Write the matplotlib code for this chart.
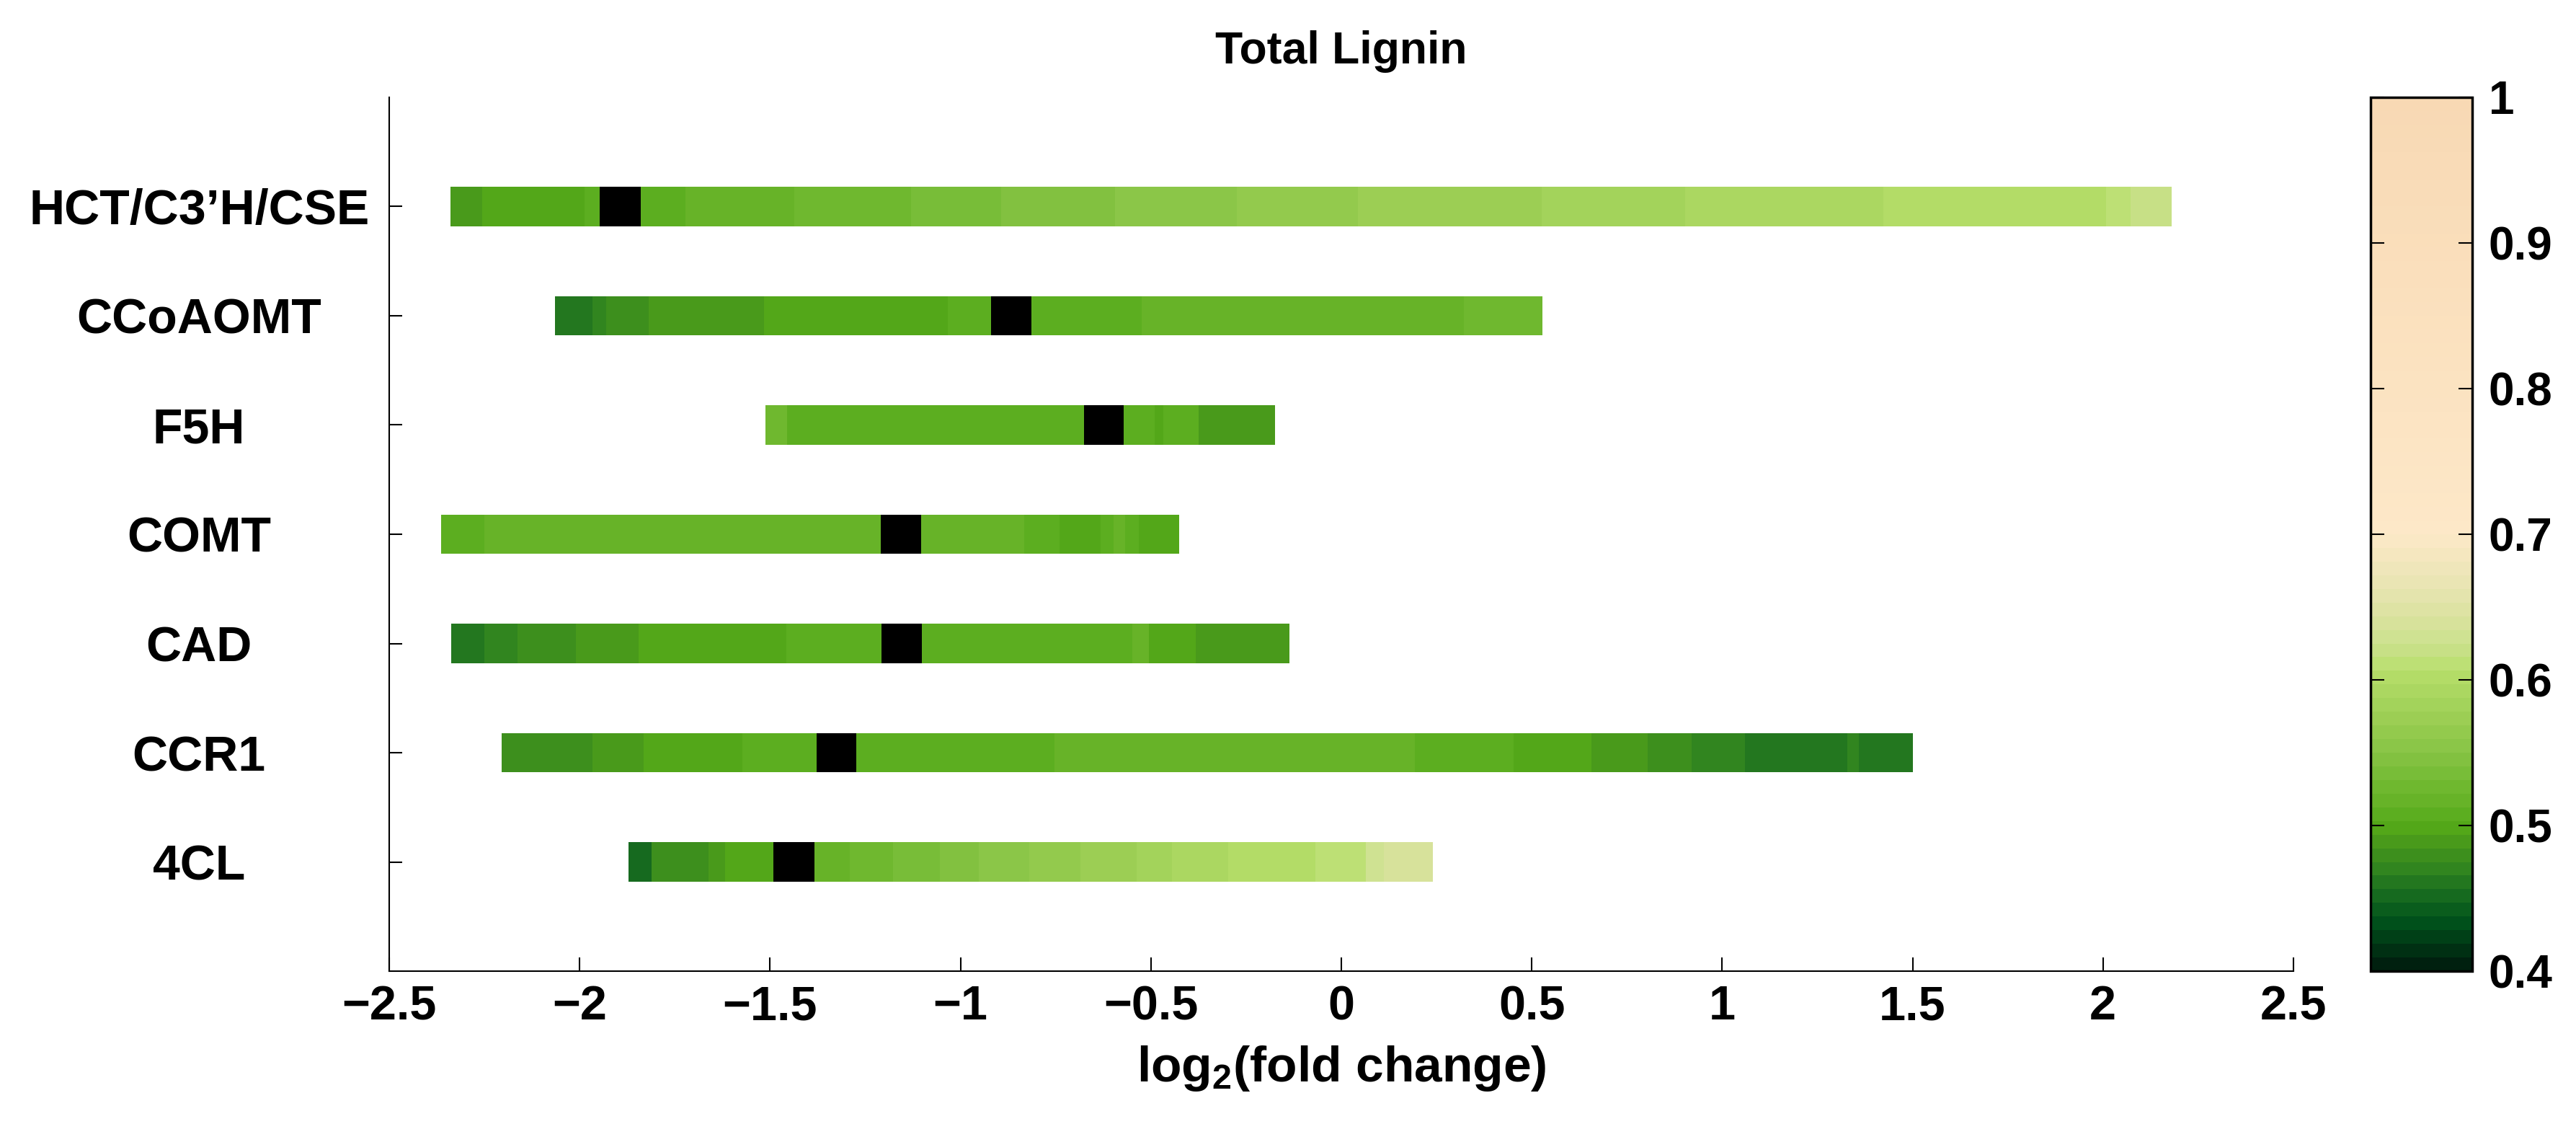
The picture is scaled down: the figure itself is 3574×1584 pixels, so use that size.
import numpy as np
import matplotlib
matplotlib.use('Agg')
import matplotlib.pyplot as plt
from matplotlib.colors import LinearSegmentedColormap, Normalize
from matplotlib.cm import ScalarMappable

plt.rcParams['font.family'] = ['Liberation Sans', 'DejaVu Sans']
plt.rcParams['font.weight'] = 'bold'
plt.rcParams['mathtext.fontset'] = 'custom'
plt.rcParams['mathtext.rm'] = 'Liberation Sans:bold'
plt.rcParams['mathtext.bf'] = 'Liberation Sans:bold'
plt.rcParams['mathtext.default'] = 'bf'

# ---------------- data ----------------
genes = ['4CL', 'CCR1', 'CAD', 'COMT', 'F5H', 'CCoAOMT', 'HCT/C3\u2019H/CSE']

# segment edges (log2 fold change) and colour values; nan = wild type (black)
edges_4cl = [-1.872, -1.811, -1.662, -1.619, -1.491, -1.384, -1.291, -1.177, -1.054, -0.952,
             -0.819, -0.686, -0.537, -0.444, -0.297, -0.069, 0.064, 0.111, 0.240]
vals_4cl = [0.452, 0.480, 0.489, 0.498, np.nan, 0.517, 0.527, 0.536, 0.545, 0.555,
            0.564, 0.573, 0.583, 0.592, 0.602, 0.611, 0.630, 0.639]

edges_ccr1 = [-2.205, -1.967, -1.832, -1.572, -1.378, -1.273, -0.754, 0.194, 0.452, 0.657,
              0.804, 0.919, 1.060, 1.329, 1.358, 1.501]
vals_ccr1 = [0.480, 0.489, 0.498, 0.508, np.nan, 0.508, 0.517, 0.508, 0.498, 0.489,
             0.480, 0.470, 0.461, 0.470, 0.461]

edges_cad = [-2.337, -2.251, -2.163, -2.009, -1.845, -1.457, -1.208, -1.102, -0.549, -0.505,
             -0.382, -0.136]
vals_cad = [0.461, 0.470, 0.480, 0.489, 0.498, 0.508, np.nan, 0.508, 0.517, 0.498, 0.489]

edges_comt = [-2.364, -2.251, -1.209, -1.103, -0.833, -0.740, -0.632, -0.598, -0.567, -0.531,
              -0.426]
vals_comt = [0.508, 0.517, np.nan, 0.517, 0.508, 0.498, 0.508, 0.517, 0.508, 0.498]

edges_f5h = [-1.513, -1.456, -0.676, -0.571, -0.491, -0.468, -0.375, -0.174]
vals_f5h = [0.527, 0.508, np.nan, 0.508, 0.498, 0.508, 0.489]

edges_ccoaomt = [-2.064, -1.966, -1.931, -1.818, -1.516, -1.033, -0.919, -0.813, -0.525,
                 0.321, 0.529]
vals_ccoaomt = [0.461, 0.470, 0.480, 0.489, 0.498, 0.508, np.nan, 0.508, 0.517, 0.527]

edges_hct = [-2.340, -2.255, -1.987, -1.947, -1.840, -1.723, -1.436, -1.130, -0.893, -0.594,
             -0.274, 0.043, 0.526, 0.903, 1.423, 2.009, 2.072, 2.181]
vals_hct = [0.489, 0.498, 0.508, np.nan, 0.508, 0.517, 0.527, 0.536, 0.545, 0.555,
            0.564, 0.573, 0.583, 0.592, 0.602, 0.611, 0.620]

all_edges = [edges_4cl, edges_ccr1, edges_cad, edges_comt, edges_f5h, edges_ccoaomt, edges_hct]
all_vals = [vals_4cl, vals_ccr1, vals_cad, vals_comt, vals_f5h, vals_ccoaomt, vals_hct]

xticks = [-2.5, -2, -1.5, -1, -0.5, 0, 0.5, 1, 1.5, 2, 2.5]
xticklabels = ['\u22122.5', '\u22122', '\u22121.5', '\u22121', '\u22120.5', '0',
               '0.5', '1', '1.5', '2', '2.5']
cticks = [0.4, 0.5, 0.6, 0.7, 0.8, 0.9, 1.0]
cticklabels = ['0.4', '0.5', '0.6', '0.7', '0.8', '0.9', '1']

# ---------------- colormap ----------------
cmap_pos = [0.400, 0.430, 0.455, 0.461, 0.470, 0.480, 0.489, 0.498, 0.508, 0.517, 0.527,
            0.536, 0.545, 0.555, 0.564, 0.573, 0.583, 0.592, 0.602, 0.611, 0.620, 0.630,
            0.639, 0.660, 0.700, 1.000]
cmap_hex = ['#00200f', '#00521c', '#1f7420', '#2b7d1e', '#348a1f', '#43921c', '#4c9e1a',
            '#56ab18', '#5fb024', '#6ab52a', '#72b932', '#7bbe3a', '#84c242', '#8dc74a',
            '#95cb4e', '#9dcf55', '#a5d45c', '#acd862', '#b5dd68', '#bfe078', '#c8e088',
            '#d0e294', '#d8e29c', '#e6e4b0', '#fde8c8', '#f8d9b4']
vmin, vmax = 0.4, 1.0
cmap = LinearSegmentedColormap.from_list(
    'lignin', [((p - vmin) / (vmax - vmin), c) for p, c in zip(cmap_pos, cmap_hex)], N=64)
cmap.set_bad('black')
norm = Normalize(vmin=vmin, vmax=vmax)

# ---------------- plot ----------------
fig = plt.figure(figsize=(35.74, 15.84), dpi=100)
ax = fig.add_axes([0.1511, 0.1496, 0.7392, 0.7652])

for i, (ed, vv) in enumerate(zip(all_edges, all_vals)):
    ed = np.array(ed)
    cols = cmap(norm(np.ma.masked_invalid(vv)))
    ax.barh(i + 1, np.diff(ed), left=ed[:-1], height=0.36, color=cols, linewidth=0)

ax.set_xlim(-2.5, 2.5)
ax.set_ylim(0, 8)
ax.set_xticks(xticks)
ax.set_xticklabels(xticklabels, fontsize=48, fontweight='bold')
ax.set_yticks(range(1, 8))
ax.set_yticklabels(genes, fontsize=49, fontweight='bold', ha='center')
ax.tick_params(axis='x', direction='in', length=14, width=1.5, pad=14)
ax.tick_params(axis='y', direction='in', length=13, width=1.5, pad=190)
for s in ['top', 'right']:
    ax.spines[s].set_visible(False)
for s in ['left', 'bottom']:
    ax.spines[s].set_linewidth(1.5)

ax.set_xlabel(r'log$_2$(fold change)', fontsize=50, fontweight='bold', labelpad=14)
ax.set_title('Total Lignin', fontsize=45, fontweight='bold', pad=34)

cax = fig.add_axes([0.9203, 0.1496, 0.0395, 0.7652])
cb = fig.colorbar(ScalarMappable(norm=norm, cmap=cmap), cax=cax)
cb.set_ticks(cticks)
cb.set_ticklabels(cticklabels)
cb.outline.set_linewidth(2.5)
cax.tick_params(direction='in', left=True, right=True, length=14, width=1.5,
                labelsize=46, pad=16)
for t in cax.get_yticklabels():
    t.set_fontweight('bold')

fig.savefig('out.png', dpi=100)
